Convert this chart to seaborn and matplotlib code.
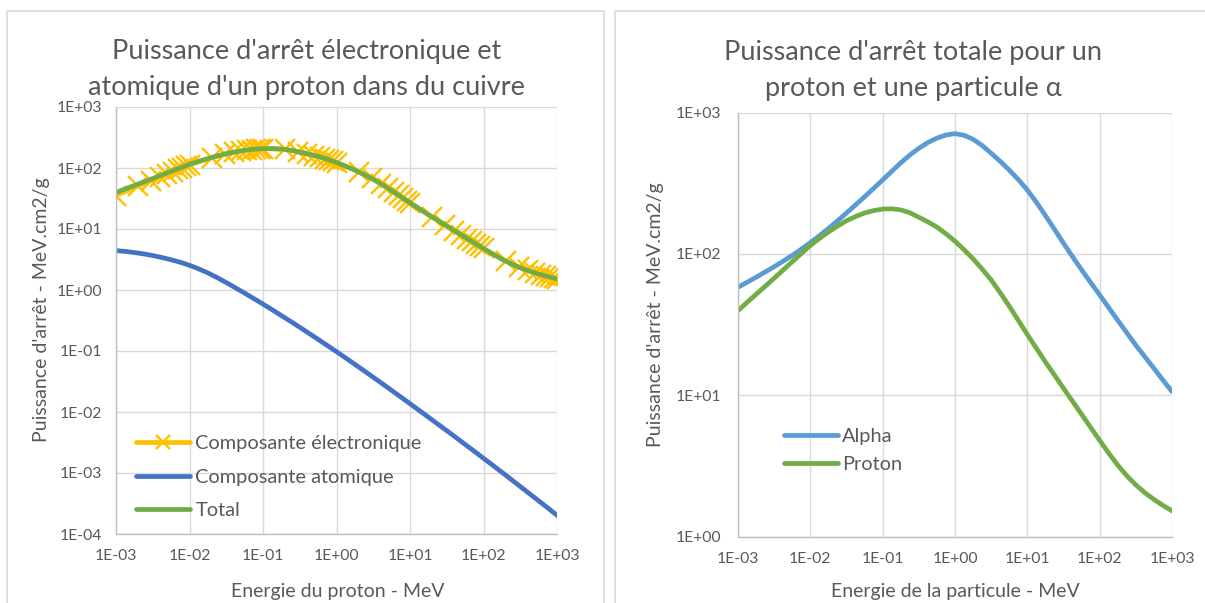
import matplotlib
matplotlib.use("Agg")
import matplotlib.pyplot as plt
import matplotlib.ticker as mticker
from matplotlib.patches import Rectangle
import seaborn as sns

# energies (MeV) - eighth of a decade
energie = [0.001, 0.001334, 0.001778, 0.002371, 0.003162, 0.004217, 0.005623, 0.007499,
           0.01, 0.01334, 0.01778, 0.02371, 0.03162, 0.04217, 0.05623, 0.07499,
           0.1, 0.1334, 0.1778, 0.2371, 0.3162, 0.4217, 0.5623, 0.7499,
           1.0, 1.334, 1.778, 2.371, 3.162, 4.217, 5.623, 7.499,
           10.0, 13.34, 17.78, 23.71, 31.62, 42.17, 56.23, 74.99,
           100.0, 133.4, 177.8, 237.1, 316.2, 421.7, 562.3, 749.9,
           1000.0]

# total stopping power, proton in copper (MeV.cm2/g)
proton_total = [39.7, 45.4, 51.8, 59.0, 67.3, 77.1, 88.1, 100.7,
                114.8, 128.8, 142.9, 157.4, 171.8, 184.1, 195.0, 202.8,
                208.0, 208.9, 205.1, 195.9, 182.0, 168.7, 154.9, 139.0,
                123.0, 107.2, 92.3, 78.2, 65.5, 53.2, 42.7, 33.9,
                26.9, 21.5, 17.2, 13.9, 11.2, 9.06, 7.33, 5.92,
                4.79, 3.89, 3.20, 2.69, 2.32, 2.04, 1.83, 1.66,
                1.52]

# total stopping power, alpha particle
alpha_total = [58.1, 63.0, 68.4, 74.5, 81.3, 88.9, 97.7, 108.1,
               120.2, 134.6, 151.4, 171.4, 195.0, 222.3, 254.1, 291.1,
               334.2, 384.6, 441.6, 501.2, 559.8, 615.2, 660.7, 695.0,
               711.2, 691.8, 648.6, 586.1, 516.4, 452.9, 392.6, 336.5,
               283.8, 232.3, 187.1, 149.6, 119.1, 95.7, 77.3, 62.8,
               51.3, 41.7, 33.9, 27.7, 22.6, 18.7, 15.5, 12.8,
               10.6]

# atomic (nuclear) component, proton
atomique = [4.43, 4.29, 4.11, 3.91, 3.67, 3.41, 3.13, 2.85,
            2.54, 2.22, 1.905, 1.60, 1.324, 1.086, 0.889, 0.724,
            0.587, 0.474, 0.381, 0.306, 0.245, 0.195, 0.155, 0.123,
            0.0975, 0.0769, 0.0604, 0.0474, 0.0371, 0.0290, 0.0226, 0.0176,
            0.0137, 0.0106, 0.00824, 0.00638, 0.00494, 0.00382, 0.00294, 0.00227,
            0.00174, 0.00134, 0.00103, 0.000787, 0.000601, 0.000459, 0.000350, 0.000267,
            0.000202]

# electronic component, proton (dense energy table)
energie_elec = [0.001, 0.002, 0.003, 0.004, 0.005, 0.006, 0.007, 0.008, 0.009,
                0.01, 0.02, 0.03, 0.04, 0.05, 0.06, 0.07, 0.08, 0.09,
                0.1, 0.2, 0.3, 0.4, 0.5, 0.6, 0.7, 0.8, 0.9,
                1, 2, 3, 4, 5, 6, 7, 8, 9,
                10, 20, 30, 40, 50, 60, 70, 80, 90,
                100, 200, 300, 400, 500, 600, 700, 800, 900,
                1000]
electronique = [35.3, 50.8, 62.2, 71.9, 80.3, 87.6, 94.5, 100.8, 106.7,
                112.2, 147.2, 167.7, 179.6, 189.6, 196.0, 200.2, 203.0, 205.5,
                207.4, 201.4, 183.7, 170.3, 160.1, 150.8, 142.0, 134.7, 128.4,
                123.0, 86.5, 67.6, 55.3, 46.8, 40.6, 35.9, 32.3, 29.3,
                26.9, 15.7, 11.7, 9.44, 8.0, 6.98, 6.24, 5.65, 5.18,
                4.79, 3.0, 2.39, 2.10, 1.91, 1.79, 1.69, 1.63, 1.57,
                1.52]

GRIS = "#595959"
JAUNE = "#FFC000"
BLEU = "#4472C4"
VERT = "#70AD47"
BLEU_CLAIR = "#5B9BD5"

sns.set_theme(style="whitegrid")
plt.rcParams["font.family"] = ["Lato", "DejaVu Sans"]
plt.rcParams["text.color"] = GRIS

fig = plt.figure(figsize=(12.05, 6.03), dpi=100)
fig.patch.set_facecolor("white")

# chart frames
fig.add_artist(Rectangle((7 / 1205, -0.01), 597 / 1205, 1 - 11 / 603 + 0.01,
                         transform=fig.transFigure, fill=False,
                         edgecolor="#D9D9D9", lw=1.2))
fig.add_artist(Rectangle((615 / 1205, -0.01), 0.6, 1 - 11 / 603 + 0.01,
                         transform=fig.transFigure, fill=False,
                         edgecolor="#D9D9D9", lw=1.2))

ax1 = fig.add_axes([116 / 1205, 1 - 534 / 603, 441 / 1205, 427 / 603])
ax2 = fig.add_axes([738 / 1205, 1 - 536.5 / 603, 434 / 1205, 423.8 / 603])

lw = 3.4
sns.lineplot(x=energie_elec, y=electronique, ax=ax1, color=JAUNE, lw=lw,
             marker="x", markersize=15, markeredgewidth=1.7,
             markeredgecolor=JAUNE, label="Composante électronique")
sns.lineplot(x=energie, y=atomique, ax=ax1, color=BLEU, lw=lw,
             label="Composante atomique")
sns.lineplot(x=energie, y=proton_total, ax=ax1, color=VERT, lw=lw,
             label="Total")

sns.lineplot(x=energie, y=alpha_total, ax=ax2, color=BLEU_CLAIR, lw=lw,
             label="Alpha")
sns.lineplot(x=energie, y=proton_total, ax=ax2, color=VERT, lw=lw,
             label="Proton")


def fmt(v, pos):
    return f"{v:.0E}"


for ax, ylim in ((ax1, (1e-4, 1e3)), (ax2, (1, 1e3))):
    ax.set_xscale("log")
    ax.set_yscale("log")
    ax.set_xlim(1e-3, 1e3)
    ax.set_ylim(*ylim)
    ax.xaxis.set_major_locator(mticker.LogLocator(base=10, numticks=20))
    ax.yaxis.set_major_locator(mticker.LogLocator(base=10, numticks=20))
    ax.xaxis.set_minor_locator(mticker.NullLocator())
    ax.yaxis.set_minor_locator(mticker.NullLocator())
    ax.xaxis.set_major_formatter(mticker.FuncFormatter(fmt))
    ax.yaxis.set_major_formatter(mticker.FuncFormatter(fmt))
    ax.grid(True, color="#D9D9D9", lw=1.0)
    ax.set_facecolor("white")
    for s in ("top", "right"):
        ax.spines[s].set_visible(False)
    for s in ("left", "bottom"):
        ax.spines[s].set_color("#BFBFBF")
        ax.spines[s].set_linewidth(1.0)
    ax.tick_params(axis="both", length=0, labelsize=11.3, labelcolor=GRIS)
    ax.tick_params(axis="x", pad=11)
    ax.set_xlabel("")
    ax.set_ylabel("")

ax1.tick_params(axis="y", pad=10)
ax2.tick_params(axis="y", pad=12)

ax1.legend(loc="center left", bbox_to_anchor=(0.046, 0.133), frameon=False,
           fontsize=14.4, handlelength=2.7, handletextpad=0.25, labelspacing=0.82,
           borderpad=0, borderaxespad=0, labelcolor=GRIS, markerscale=0.7)
ax2.legend(loc="center left", bbox_to_anchor=(0.106, 0.202), frameon=False,
           fontsize=14.4, handlelength=2.7, handletextpad=0.2, labelspacing=0.55,
           borderpad=0, borderaxespad=0, labelcolor=GRIS)

fig.text(306.5 / 1205, 1 - 69.5 / 603,
         "Puissance d'arrêt électronique et\natomique d'un proton dans du cuivre",
         ha="center", va="center", fontsize=19.5, color=GRIS, linespacing=1.5)
fig.text(913 / 1205, 1 - 70.5 / 603,
         "Puissance d'arrêt totale pour un\nproton et une particule α",
         ha="center", va="center", fontsize=19.5, color=GRIS, linespacing=1.55)

fig.text(42 / 1205, 1 - 310 / 603, "Puissance d'arrêt - MeV.cm2/g",
         rotation=90, ha="center", va="center", fontsize=14, color=GRIS)
fig.text(655 / 1205, 1 - 315 / 603, "Puissance d'arrêt - MeV.cm2/g",
         rotation=90, ha="center", va="center", fontsize=14, color=GRIS)
fig.text(337.5 / 1205, 1 - 591 / 603, "Energie du proton - MeV",
         ha="center", va="center", fontsize=14, color=GRIS)
fig.text(955.5 / 1205, 1 - 591 / 603, "Energie de la particule - MeV",
         ha="center", va="center", fontsize=14, color=GRIS)

fig.savefig("out.png", dpi=100, facecolor="white")
